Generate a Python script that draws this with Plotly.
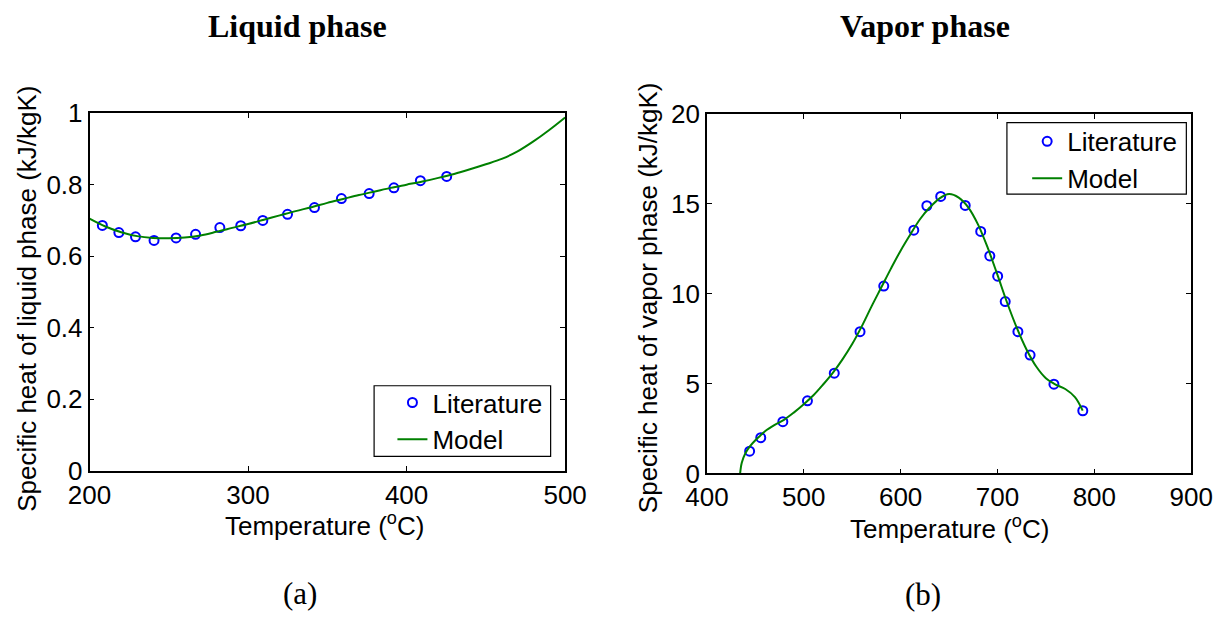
import plotly.graph_objects as go

# ---------------- data ----------------
# Liquid phase (a)
liq_lit_T = [208.1, 218.5, 229.0, 240.7, 254.6, 266.9, 282.2, 295.4, 309.3, 324.9,
             341.9, 358.9, 376.4, 392.0, 408.7, 425.3]
liq_lit_cp = [0.686, 0.666, 0.654, 0.644, 0.651, 0.661, 0.680, 0.685, 0.700, 0.717,
              0.736, 0.761, 0.775, 0.791, 0.811, 0.823]
liq_mod_T = [200, 210, 220, 230, 240, 250, 260, 270, 280, 290, 300, 310, 320, 330, 340,
             350, 360, 370, 380, 390, 400, 410, 420, 430, 440, 450, 460, 470, 480, 490, 500]
liq_mod_cp = [0.705, 0.683, 0.667, 0.656, 0.651, 0.650, 0.652, 0.658, 0.668, 0.679,
              0.690, 0.702, 0.714, 0.726, 0.737, 0.749, 0.760, 0.771, 0.781, 0.791,
              0.800, 0.809, 0.819, 0.830, 0.843, 0.857, 0.872, 0.893, 0.921, 0.953, 0.988]

# Vapor phase (b)
vap_lit_T = [444.1, 455.6, 478.4, 503.8, 531.5, 558.1, 582.6, 613.6, 627.1, 641.4,
             666.7, 682.7, 692.1, 700.2, 708.0, 721.1, 733.7, 758.3, 788.1]
vap_lit_cp = [1.24, 1.99, 2.88, 4.04, 5.58, 7.89, 10.43, 13.54, 14.90, 15.42,
              14.92, 13.47, 12.11, 10.98, 9.57, 7.89, 6.59, 4.97, 3.49]
vap_mod_T = [434.3, 436, 440, 445, 450, 455, 460, 470, 480, 490, 500, 510, 520, 530, 540,
             550, 560, 570, 580, 590, 600, 610, 620, 630, 640, 650, 660, 670, 680, 690,
             700, 710, 720, 730, 740, 750, 760, 770, 780, 788]
vap_mod_cp = [0.0, 0.6, 1.15, 1.55, 1.85, 2.1, 2.35, 2.7, 3.0, 3.4, 3.85, 4.35, 4.95, 5.6,
              6.35, 7.2, 8.2, 9.3, 10.35, 11.4, 12.4, 13.3, 14.15, 14.8, 15.3, 15.55,
              15.35, 14.8, 13.85, 12.55, 11.05, 9.5, 8.1, 6.9, 5.95, 5.3, 4.95, 4.7,
              4.25, 3.5]

liq_yticks = [0, 0.2, 0.4, 0.6, 0.8, 1]
liq_yticklabels = ["0", "0.2", "0.4", "0.6", "0.8", "1"]
liq_xticks = [200, 300, 400, 500]
vap_yticks = [0, 5, 10, 15, 20]
vap_xticks = [400, 500, 600, 700, 800, 900]

BLUE = "#0000ff"
GREEN = "#008000"
SANS = "Liberation Sans, Arial, sans-serif"
SERIF = "Liberation Serif, Times New Roman, serif"
W, H = 1245, 640
FS = 26

fig = go.Figure()
fig.add_trace(go.Scatter(x=liq_lit_T, y=liq_lit_cp, mode="markers", name="Literature",
                         marker=dict(symbol="circle-open", size=9, color=BLUE,
                                     line=dict(width=2, color=BLUE)),
                         xaxis="x", yaxis="y", legend="legend"))
fig.add_trace(go.Scatter(x=liq_mod_T, y=liq_mod_cp, mode="lines", name="Model",
                         line=dict(color=GREEN, width=2, shape="spline"),
                         xaxis="x", yaxis="y", legend="legend"))
fig.add_trace(go.Scatter(x=vap_lit_T, y=vap_lit_cp, mode="markers", name="Literature",
                         marker=dict(symbol="circle-open", size=9, color=BLUE,
                                     line=dict(width=2, color=BLUE)),
                         xaxis="x2", yaxis="y2", legend="legend2"))
fig.add_trace(go.Scatter(x=vap_mod_T, y=vap_mod_cp, mode="lines", name="Model",
                         line=dict(color=GREEN, width=2, shape="spline"),
                         xaxis="x2", yaxis="y2", legend="legend2"))

axis_common = dict(showline=True, linecolor="black", linewidth=1.5, mirror="ticks",
                   ticks="inside", ticklen=5, tickcolor="black", showgrid=False,
                   zeroline=False, tickfont=dict(family=SANS, size=FS, color="black"))

def px_x(p):
    return p / W

def px_y(p):
    return 1 - p / H

legend_common = dict(xanchor="left", yanchor="top", borderwidth=0,
                     bgcolor="rgba(0,0,0,0)", tracegroupgap=0,
                     font=dict(family=SANS, size=FS, color="black"))

fig.update_layout(
    width=W, height=H, margin=dict(l=0, r=0, t=0, b=0),
    paper_bgcolor="white", plot_bgcolor="white",
    xaxis=dict(domain=[px_x(70), px_x(563)], range=[200, 500], tickvals=liq_xticks,
               anchor="y", **axis_common),
    yaxis=dict(domain=[px_y(478), px_y(103)], range=[0, 1], tickvals=liq_yticks,
               ticktext=liq_yticklabels, anchor="x", **axis_common),
    xaxis2=dict(domain=[px_x(710), px_x(1212)], range=[400, 900], tickvals=vap_xticks,
                anchor="y2", **axis_common),
    yaxis2=dict(domain=[px_y(481), px_y(104)], range=[0, 20], tickvals=vap_yticks,
                anchor="x2", **axis_common),
    legend=dict(x=px_x(384), y=px_y(382), **legend_common),
    legend2=dict(x=px_x(1042), y=px_y(108), **legend_common),
    showlegend=True,
    shapes=[
        dict(type="rect", xref="paper", yref="paper",
             x0=px_x(365), x1=px_x(548), y0=px_y(463), y1=px_y(389),
             line=dict(color="black", width=1.2), fillcolor="white", layer="above"),
        dict(type="rect", xref="paper", yref="paper",
             x0=px_x(1021), x1=px_x(1207), y0=px_y(188), y1=px_y(113),
             line=dict(color="black", width=1.2), fillcolor="white", layer="above"),
    ],
)

annos = [
    dict(text="<b>Liquid phase</b>", x=px_x(286), y=px_y(12), font=dict(family=SERIF, size=32)),
    dict(text="<b>Vapor phase</b>", x=px_x(936), y=px_y(12), font=dict(family=SERIF, size=32)),
    dict(text="(a)", x=px_x(288), y=px_y(607), font=dict(family=SERIF, size=31)),
    dict(text="(b)", x=px_x(934), y=px_y(608), font=dict(family=SERIF, size=31)),
    dict(text="Temperature (<sup>o</sup>C)", x=px_x(314), y=px_y(535),
         font=dict(family=SANS, size=FS)),
    dict(text="Temperature (<sup>o</sup>C)", x=px_x(961), y=px_y(538),
         font=dict(family=SANS, size=FS)),
    dict(text="Specific heat of liquid phase (kJ/kgK)", x=px_x(5), y=px_y(298),
         textangle=-90, font=dict(family=SANS, size=FS)),
    dict(text="Specific heat of vapor phase (kJ/kgK)", x=px_x(649), y=px_y(297),
         textangle=-90, font=dict(family=SANS, size=FS)),
]
for a in annos:
    a.update(xref="paper", yref="paper", showarrow=False, xanchor="center", yanchor="middle")
    a["font"]["color"] = "black"
fig.update_layout(annotations=annos)

fig.write_html("out.html")
